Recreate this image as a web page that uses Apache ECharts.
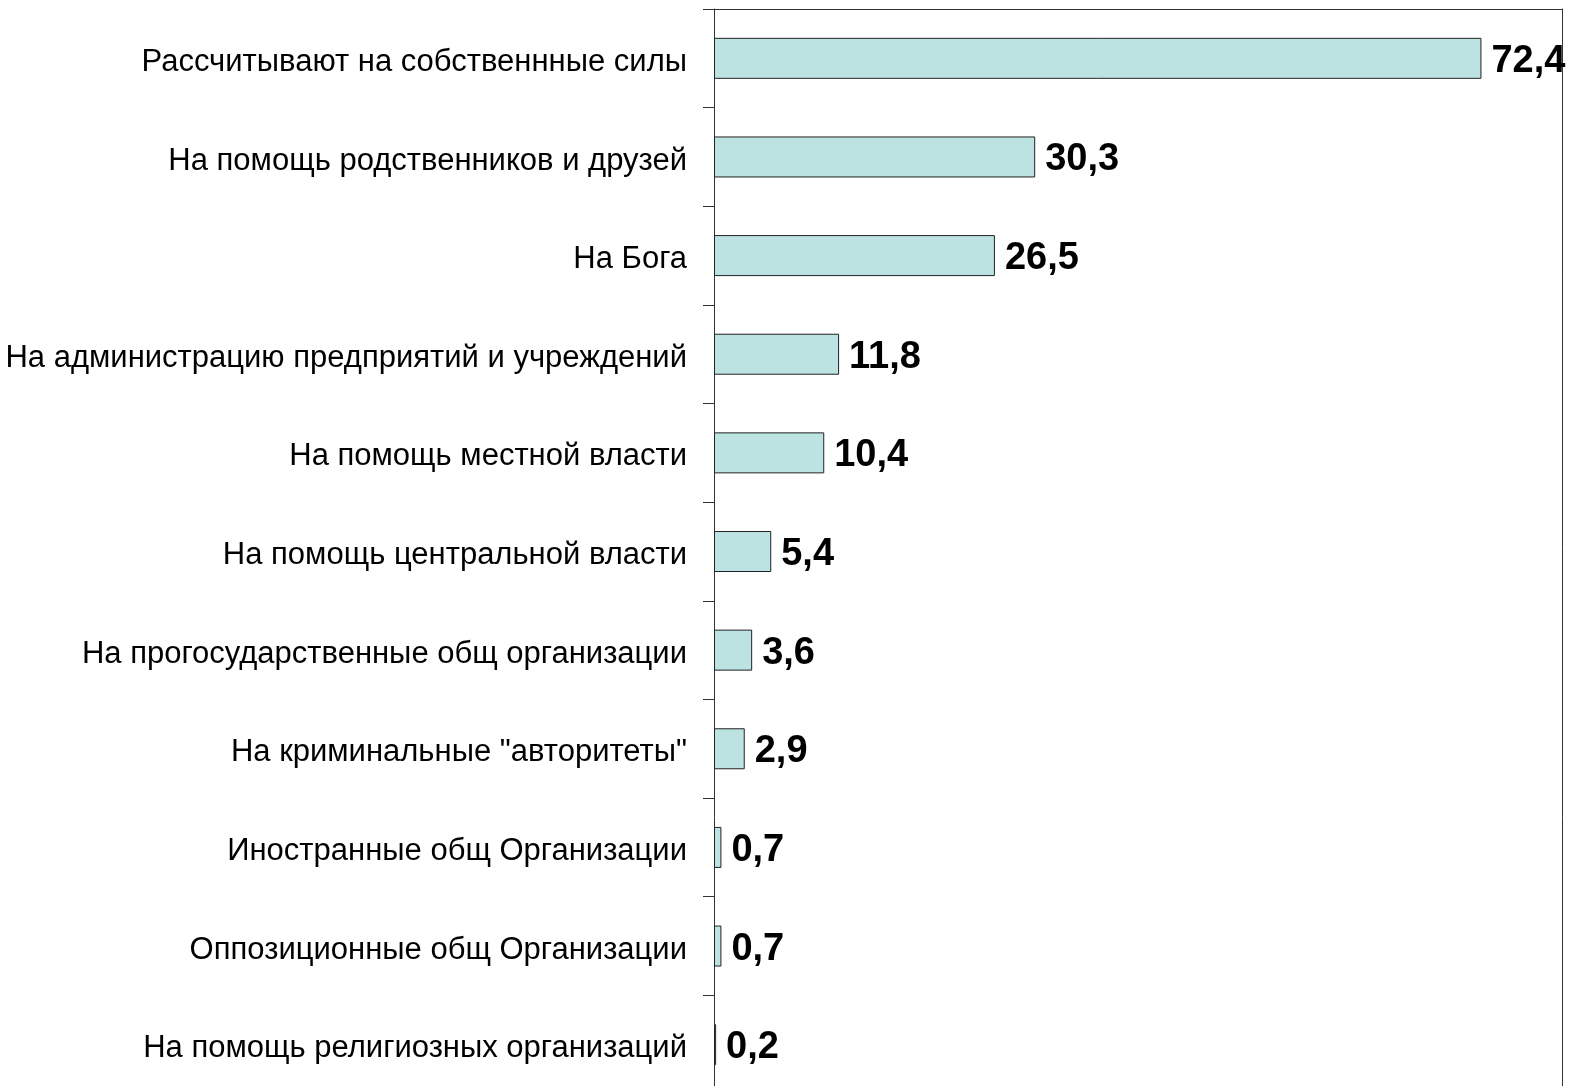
<!DOCTYPE html>
<html><head><meta charset="utf-8">
<script src="https://cdn.jsdelivr.net/npm/echarts@6/dist/echarts.min.js"></script>
<style>html,body{margin:0;padding:0;background:#fff}#c{width:1573px;height:1086px}</style>
</head><body><div id="c"></div>
<script>
const categories = [
  'Рассчитывают на собственнные силы',
  'На помощь родственников и друзей',
  'На Бога',
  'На администрацию предприятий и учреждений',
  'На помощь местной власти',
  'На помощь центральной власти',
  'На прогосударственные общ организации',
  'На криминальные "авторитеты"',
  'Иностранные общ Организации',
  'Оппозиционные общ Организации',
  'На помощь религиозных организаций'
];
const values = [72.4, 30.3, 26.5, 11.8, 10.4, 5.4, 3.6, 2.9, 0.7, 0.7, 0.2];

const frameLine = {show: true, onZero: false, lineStyle: {color: '#333', width: 1}};
const chart = echarts.init(document.getElementById('c'), null, {renderer: 'canvas'});
chart.setOption({
  animation: false,
  backgroundColor: '#fff',
  grid: {left: 714, top: 9, width: 848, height: 1085, containLabel: false, outerBoundsMode: 'none'},
  xAxis: {type: 'value', min: 0, max: 80, position: 'top',
    axisLine: frameLine, axisTick: {show: false}, axisLabel: {show: false}, splitLine: {show: false}},
  yAxis: [{
    type: 'category', data: categories, inverse: true, position: 'left',
    axisLine: frameLine,
    axisTick: {show: true, length: 11, lineStyle: {color: '#333', width: 1}},
    axisLabel: {margin: 27, formatter: v => '{a|' + v + '}',
      rich: {a: {color: '#000', fontFamily: 'Liberation Sans, Arial, sans-serif', fontSize: 31, padding: [8, 0, 0, 0]}}}
  }, {
    type: 'value', position: 'right', min: 0, max: 1,
    axisLine: frameLine, axisTick: {show: false}, axisLabel: {show: false}, splitLine: {show: false}
  }],
  series: [{
    type: 'bar', data: values, barWidth: 41, yAxisIndex: 0,
    itemStyle: {color: '#BCE2E2', borderColor: '#222', borderWidth: 1},
    label: {show: true, position: 'right', distance: 10, offset: [0, 3], color: '#000', fontWeight: 'bold',
      fontFamily: 'Liberation Sans, Arial, sans-serif', fontSize: 38,
      formatter: p => String(p.value).replace('.', ',')}
  }]
});
</script></body></html>
